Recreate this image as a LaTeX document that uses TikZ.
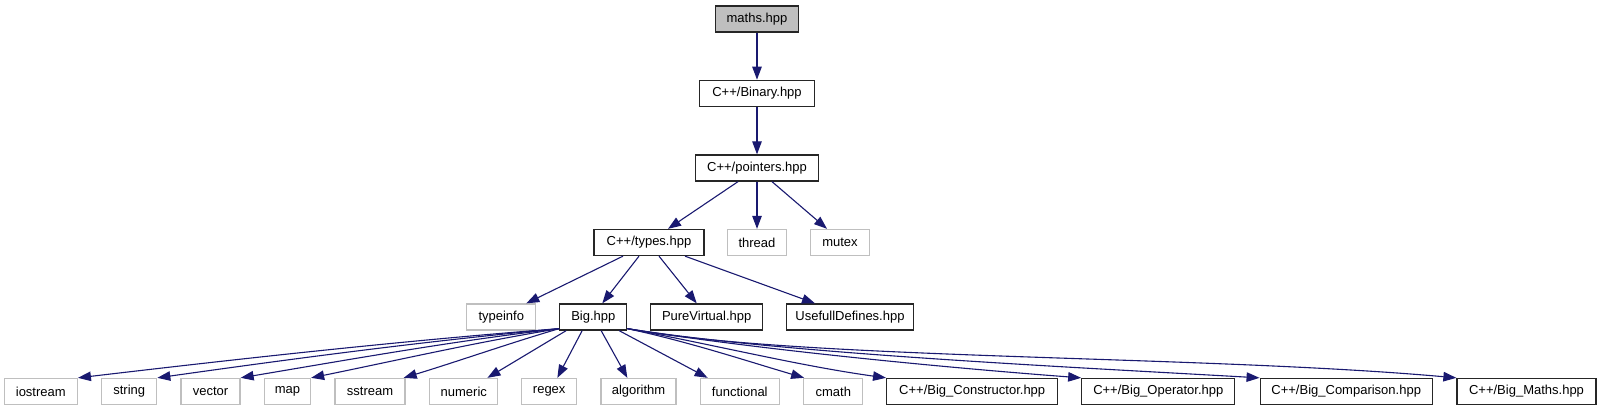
\documentclass[tikz,border=0pt]{standalone}
\usepackage{fontspec}
\setmainfont{Liberation Sans}
\usetikzlibrary{arrows.meta,calc}
\definecolor{edgeblue}{HTML}{191970}
\definecolor{greyb}{HTML}{BFBFBF}
\begin{document}
\begin{tikzpicture}[x=1pt,y=1pt,
  box/.style={draw=black!85, line width=1.3pt, minimum height=26pt, inner sep=0pt,
              font=\fontsize{13}{15}\selectfont},
  ext/.style={box, draw=greyb},
  edge/.style={draw=edgeblue, line width=1.1pt, -{Triangle[length=13pt,width=9.5pt]}}]
\useasboundingbox (0,0) rectangle (1601,-411);
% row 1-3
\node[box, fill=greyb, minimum width=83pt] (maths) at (757,-19) {maths.hpp};
\node[box, minimum width=115pt] (binary) at (757,-93.3) {C++/Binary.hpp};
\node[box, minimum width=123pt] (pointers) at (757,-168) {C++/pointers.hpp};
% row 4
\node[box, minimum width=110pt] (types) at (649,-242.5) {C++/types.hpp};
\node[ext, minimum width=59pt] (thread) at (757,-242.5) {thread};
\node[ext, minimum width=59pt] (mutex) at (840,-242.5) {mutex};
% row 5
\node[ext, minimum width=69pt] (typeinfo) at (501.3,-317) {typeinfo};
\node[box, minimum width=67pt] (big) at (593.3,-317) {Big.hpp};
\node[box, minimum width=112pt] (pure) at (706.7,-317) {PureVirtual.hpp};
\node[box, minimum width=127pt] (usefull) at (850,-317) {UsefullDefines.hpp};
% row 6
\node[ext, minimum width=73pt] (iostream) at (40.8,-391.5) {iostream};
\node[ext, minimum width=55pt] (string) at (129.2,-391.5) {string};
\node[ext, minimum width=59pt] (vector) at (210.5,-391.5) {vector};
\node[ext, minimum width=46pt] (map) at (287.5,-391.5) {map};
\node[ext, minimum width=70pt] (sstream) at (370,-391.5) {sstream};
\node[ext, minimum width=68pt] (numeric) at (463.8,-391.5) {numeric};
\node[ext, minimum width=55pt] (regex) at (549.2,-391.5) {regex};
\node[ext, minimum width=75pt] (algorithm) at (638.5,-391.5) {algorithm};
\node[ext, minimum width=79pt] (functional) at (739.8,-391.5) {functional};
\node[ext, minimum width=59pt] (cmath) at (833.3,-391.5) {cmath};
\node[box, minimum width=171pt] (bcons) at (972.2,-391.5) {C++/Big\_Constructor.hpp};
\node[box, minimum width=153pt] (bop) at (1158.3,-391.5) {C++/Big\_Operator.hpp};
\node[box, minimum width=172pt] (bcmp) at (1346.2,-391.5) {C++/Big\_Comparison.hpp};
\node[box, minimum width=139pt] (bmaths) at (1526.5,-391.5) {C++/Big\_Maths.hpp};
% start points
\coordinate (bl) at ($(big.south west)+(0,2)$);
\coordinate (br) at ($(big.south east)+(0,2)$);
% edges upper part
\draw[edge] (maths) -- (binary);
\draw[edge] (binary) -- (pointers);
\draw[edge] ($(pointers.south)+(-19,0)$) -- ($(types.north)+(19,0)$);
\draw[edge] (pointers) -- (thread);
\draw[edge] ($(pointers.south)+(15,0)$) -- ($(mutex.north)+(-13,0)$);
\draw[edge] ($(types.south)+(-26,0)$) -- ($(typeinfo.north)+(25,0)$);
\draw[edge] ($(types.south)+(-10,0)$) -- ($(big.north)+(9,0)$);
\draw[edge] ($(types.south)+(10,0)$) -- ($(pure.north)+(-10,0)$);
\draw[edge] ($(types.south)+(36,0)$) -- ($(usefull.north)+(-35,0)$);
% Big.hpp, left bundle
\draw[edge] (bl) .. controls (399,-341) and (238,-359) .. (iostream.north east);
\draw[edge] (bl) .. controls (426,-341) and (291,-359) .. (string.north east);
\draw[edge] (bl) .. controls (453,-341) and (347,-360) .. (vector.north east);
\draw[edge] (bl) .. controls (477,-342) and (394,-361) .. (map.north east);
\draw[edge] (bl) .. controls (510,-343) and (456,-362) .. ($(sstream.north east)+(-2,0)$);
\draw[edge] ($(big.south west)+(7,0)$) -- ($(numeric.north east)+(-11,0)$);
\draw[edge] ($(big.south west)+(23,0)$) -- ($(regex.north east)+(-20,0)$);
\draw[edge] ($(big.south west)+(42,0)$) -- ($(algorithm.north west)+(27,0)$);
\draw[edge] ($(big.south west)+(60,0)$) -- ($(functional.north west)+(8,0)$);
% Big.hpp, right bundle
\draw[edge] (br) .. controls (690,-342) and (750,-362) .. ($(cmath.north west)+(1,0)$);
\draw[edge] (br) .. controls (715,-345) and (800,-366) .. (bcons.north west);
\draw[edge] (br) .. controls (760,-350) and (950,-368) .. (bop.north west);
\draw[edge] (br) .. controls (780,-353) and (1050,-366) .. (bcmp.north west);
\draw[edge] (br) .. controls (800,-360) and (1200,-355) .. (bmaths.north west);
\end{tikzpicture}
\end{document}
